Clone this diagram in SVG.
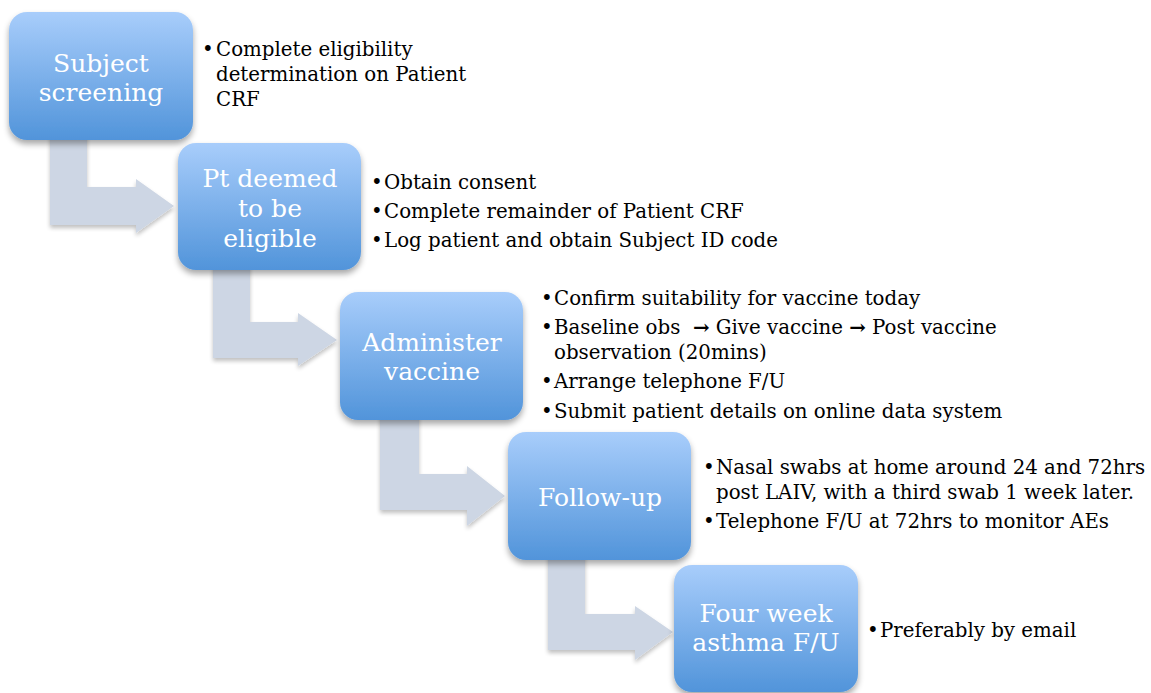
<svg xmlns="http://www.w3.org/2000/svg" width="1151" height="693" viewBox="0 0 1151 693">
<defs>
<linearGradient id="bg" x1="0" y1="0" x2="0" y2="1">
<stop offset="0" stop-color="#a8cdfb"/>
<stop offset="1" stop-color="#5194da"/>
</linearGradient>
<filter id="sh" x="-20%" y="-20%" width="140%" height="150%">
<feGaussianBlur in="SourceAlpha" stdDeviation="3"/>
<feOffset dx="0" dy="4" result="b"/>
<feComponentTransfer><feFuncA type="linear" slope="0.35"/></feComponentTransfer>
<feMerge><feMergeNode/><feMergeNode in="SourceGraphic"/></feMerge>
</filter>
<filter id="ash" x="-20%" y="-20%" width="140%" height="150%">
<feGaussianBlur in="SourceAlpha" stdDeviation="2"/>
<feOffset dx="0" dy="3" result="b"/>
<feComponentTransfer><feFuncA type="linear" slope="0.25"/></feComponentTransfer>
<feMerge><feMergeNode/><feMergeNode in="SourceGraphic"/></feMerge>
</filter>
</defs>
<style>
.box{fill:url(#bg);filter:url(#sh)}
.arr{fill:#cdd6e4;filter:url(#ash)}
.bt{font-family:"DejaVu Serif","Liberation Serif",serif;font-size:25px;fill:#ffffff;text-anchor:middle}
.tx{font-family:"DejaVu Serif","Liberation Serif",serif;font-size:19.8px;fill:#000000}
</style>
<rect width="1151" height="693" fill="#ffffff"/>
<g id="connectors">
<path class="arr" d="M50 120 L87 120 L87 187 L136 187 L136 179 L174 206 L136 233 L136 225 L50 225 Z"/>
<path class="arr" d="M213 250 L250 250 L250 322 L298 322 L298 313 L337 340 L298 366 L298 358 L213 358 Z"/>
<path class="arr" d="M380 400 L419 400 L419 474 L467 474 L467 466 L505 496 L467 526 L467 510 L380 510 Z"/>
<path class="arr" d="M548 540 L585 540 L585 614 L635 614 L635 606 L673 632 L635 660 L635 650 L548 650 Z"/>
</g>
<g id="n1">
<rect class="box" x="9" y="12" width="184" height="128" rx="18"/>
<text class="bt" x="101" y="72">Subject</text>
<text class="bt" x="101" y="101">screening</text>
<g class="tx">
<text x="202" y="56">•</text><text x="216" y="56">Complete eligibility</text>
<text x="216" y="81">determination on Patient</text>
<text x="216" y="106">CRF</text>
</g>
</g>
<g id="n2">
<rect class="box" x="178" y="143" width="183" height="127" rx="18"/>
<text class="bt" x="270" y="187">Pt deemed</text>
<text class="bt" x="270" y="217">to be</text>
<text class="bt" x="270" y="247">eligible</text>
<g class="tx">
<text x="371" y="189">•</text><text x="384" y="189">Obtain consent</text>
<text x="371" y="218">•</text><text x="384" y="218">Complete remainder of Patient CRF</text>
<text x="371" y="247">•</text><text x="384" y="247">Log patient and obtain Subject ID code</text>
</g>
</g>
<g id="n3">
<rect class="box" x="340" y="292" width="183" height="128" rx="18"/>
<text class="bt" x="432" y="351">Administer</text>
<text class="bt" x="432" y="380">vaccine</text>
<g class="tx">
<text x="541" y="305">•</text><text x="554" y="305">Confirm suitability for vaccine today</text>
<text x="541" y="334">•</text><text x="554" y="334">Baseline obs&#160; <tspan font-weight="bold">→</tspan> Give vaccine <tspan font-weight="bold">→</tspan> Post vaccine</text>
<text x="554" y="359">observation (20mins)</text>
<text x="541" y="388">•</text><text x="554" y="388">Arrange telephone F/U</text>
<text x="541" y="418">•</text><text x="554" y="418">Submit patient details on online data system</text>
</g>
</g>
<g id="n4">
<rect class="box" x="508" y="432" width="183" height="128" rx="18"/>
<text class="bt" x="600" y="506">Follow-up</text>
<g class="tx">
<text x="703" y="474">•</text><text x="716" y="474">Nasal swabs at home around 24 and 72hrs</text>
<text x="716" y="499">post LAIV, with a third swab 1 week later.</text>
<text x="703" y="528">•</text><text x="716" y="528">Telephone F/U at 72hrs to monitor AEs</text>
</g>
</g>
<g id="n5">
<rect class="box" x="674" y="565" width="184" height="127" rx="18"/>
<text class="bt" x="766" y="622">Four week</text>
<text class="bt" x="766" y="651">asthma F/U</text>
<g class="tx">
<text x="867" y="637">•</text><text x="880" y="637">Preferably by email</text>
</g>
</g>
</svg>
